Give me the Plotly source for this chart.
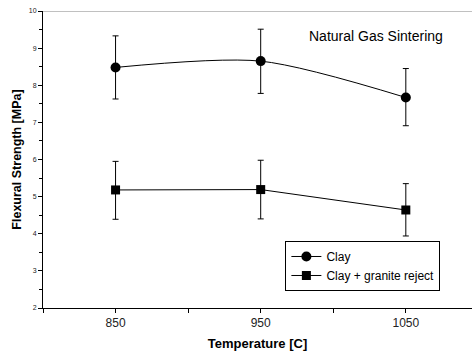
import plotly.graph_objects as go

temps = [850, 950, 1050]
clay = [8.48, 8.65, 7.67]
clay_err_plus = [0.85, 0.86, 0.78]
clay_err_minus = [0.85, 0.87, 0.76]
granite = [5.18, 5.19, 4.64]
granite_err_plus = [0.77, 0.79, 0.71]
granite_err_minus = [0.79, 0.79, 0.70]

x_tickvals = [800, 850, 900, 950, 1000, 1050, 1100]
x_ticktext = ["", "850", "", "950", "", "1050", ""]
y_tickvals = [2, 3, 4, 5, 6, 7, 8, 9, 10]

fig = go.Figure()
fig.add_trace(go.Scatter(
    x=temps, y=clay, name="Clay", mode="lines+markers",
    line=dict(color="black", width=1, shape="spline", smoothing=0.8),
    marker=dict(symbol="circle", size=10, color="black"),
    error_y=dict(type="data", symmetric=False, array=clay_err_plus,
                 arrayminus=clay_err_minus, color="black", thickness=1, width=3),
))
fig.add_trace(go.Scatter(
    x=temps, y=granite, name="Clay + granite reject", mode="lines+markers",
    line=dict(color="black", width=1),
    marker=dict(symbol="square", size=9, color="black"),
    error_y=dict(type="data", symmetric=False, array=granite_err_plus,
                 arrayminus=granite_err_minus, color="black", thickness=1, width=3),
))

fig.add_shape(type="line", xref="paper", yref="y", x0=0, x1=1, y0=10, y1=10,
              line=dict(color="#c0c0c0", width=2), layer="below")

fig.add_annotation(text="Natural Gas Sintering", xref="paper", yref="paper",
                   x=0.777, y=0.916, xanchor="center", yanchor="middle", showarrow=False,
                   font=dict(family="Arial, Liberation Sans", size=14, color="black"))

fig.update_layout(
    width=472, height=354,
    margin=dict(l=43, r=0, t=11, b=46),
    paper_bgcolor="white", plot_bgcolor="white",
    font=dict(family="Arial, Liberation Sans", color="black"),
    showlegend=True,
    legend=dict(x=0.565, y=0.2256, xanchor="left", yanchor="top",
                bordercolor="black", borderwidth=1, bgcolor="white",
                font=dict(size=12), itemwidth=30, tracegroupgap=0),
    xaxis=dict(range=[800, 1095.6], tickvals=x_tickvals, ticktext=x_ticktext,
               showgrid=False, zeroline=False, showline=True, linecolor="black",
               linewidth=1, ticks="outside", ticklen=4, tickcolor="black",
               tickfont=dict(size=12, color="#222"),
               title=dict(text="<b>Temperature [C]</b>", font=dict(size=13), standoff=9)),
    yaxis=dict(range=[2, 10], tickvals=y_tickvals,
               showgrid=False, zeroline=False, showline=True, linecolor="black",
               linewidth=1, ticks="outside", ticklen=4, tickcolor="black",
               tickfont=dict(size=7, color="#222"),
               minor=dict(dtick=0.5, ticks="outside", ticklen=3, tickcolor="black"),
               title=dict(text="<b>Flexural Strength [MPa]</b>", font=dict(size=12.5), standoff=4)),
)

fig.write_html("out.html")
